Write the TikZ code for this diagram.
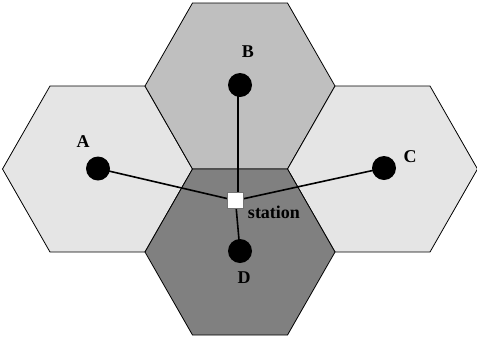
\documentclass[tikz,border=0pt]{standalone}
\usepackage{fontspec}
\setmainfont{Liberation Serif}
\begin{document}
\begin{tikzpicture}[x=1pt,y=-1pt,
  hexcell/.style={draw=black, line width=0.8pt},
  dot/.style={circle, fill=black, minimum size=24pt, inner sep=0pt},
  stationbox/.style={rectangle, fill=white, draw=black!55, line width=0.8pt, minimum size=16pt, inner sep=0pt},
  link/.style={line width=1.6pt},
  lbl/.style={font=\fontsize{18}{21}\selectfont\bfseries, inner sep=0pt}]
\useasboundingbox (0,0) rectangle (477,341);
\coordinate (cB) at (240,86);
\coordinate (cA) at (97.5,169);
\coordinate (cC) at (382.5,169);
\coordinate (cD) at (240,252);
\foreach \c/\col in {cA/black!10, cB/black!25, cC/black!10, cD/black!50}{
  \draw[hexcell, fill=\col] (\c) +(95,0) -- +(47.5,83) -- +(-47.5,83) -- +(-95,0) -- +(-47.5,-83) -- +(47.5,-83) -- cycle;
}
\node[dot] (A) at (98,168.5) {};
\node[dot] (B) at (240,85) {};
\node[dot] (C) at (384,168) {};
\node[dot] (D) at (240,251) {};
\coordinate (S) at (235.5,200.5);
\coordinate (Bfoot) at (238,200.5);
\coordinate (Btop) at (238,85);
\draw[link] (A.center) -- (S);
\draw[link] (Btop) -- (Bfoot);
\draw[link] (C.center) -- (S);
\draw[link] (D.center) -- (S);
\node[stationbox] (st) at (S) {};
\node[lbl] (lA) at (83,142) {A};
\node[lbl] (lB) at (248,52) {B};
\node[lbl] (lC) at (410,157) {C};
\node[lbl] (lD) at (244,278) {D};
\node[lbl] (lS) at (274,212.5) {station};
\end{tikzpicture}
\end{document}
